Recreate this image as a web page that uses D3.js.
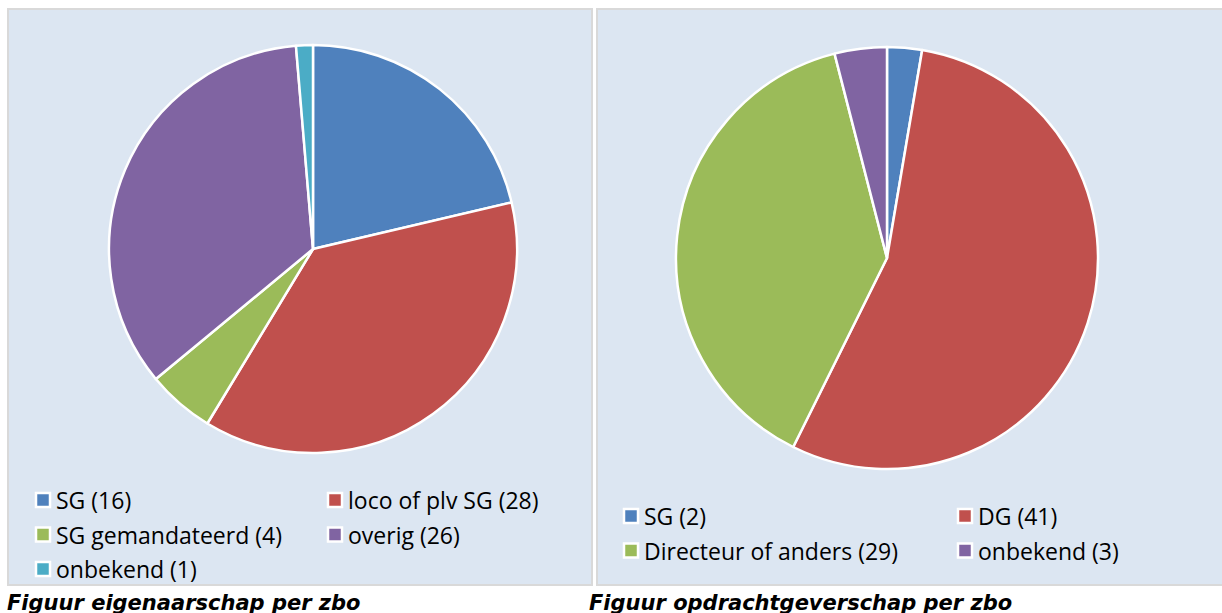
<!DOCTYPE html>
<html>
<head>
<meta charset="utf-8">
<script src="https://cdnjs.cloudflare.com/ajax/libs/d3/7.8.5/d3.min.js"></script>
<style>
  body { margin: 0; background: #fff; }
</style>
</head>
<body>
<div id="chart"></div>
<script>
// left chart data
const ownerLabels = ["SG (16)", "loco of plv SG (28)", "SG gemandateerd (4)", "overig (26)", "onbekend (1)"];
const ownerValues = [16, 28, 4, 26, 1];
// right chart data
const clientLabels = ["SG (2)", "DG (41)", "Directeur of anders (29)", "onbekend (3)"];
const clientValues = [2, 41, 29, 3];

const captions = ["Figuur eigenaarschap per zbo", "Figuur opdrachtgeverschap per zbo"];
const colors = ["#4F81BD", "#C0504D", "#9BBB59", "#8064A2", "#4BACC6"];

const svg = d3.select("#chart")
  .append("svg")
    .attr("width", 1222)
    .attr("height", 613);

function drawPanel(opts) {
  const g = svg.append("g");

  // panel background
  g.append("rect")
    .attr("x", opts.x)
    .attr("y", 9)
    .attr("width", opts.w)
    .attr("height", 576)
    .attr("fill", "#DCE6F2")
    .attr("stroke", "#D9D9D9")
    .attr("stroke-width", 2);

  const pie = d3.pie().sort(null).value(d => d);
  const arc = d3.arc().innerRadius(0).outerRadius(opts.r);

  g.append("g")
    .attr("transform", `translate(${opts.cx},${opts.cy})`)
    .selectAll("path")
    .data(pie(opts.values))
    .enter()
    .append("path")
      .attr("d", arc)
      .attr("fill", (d, i) => colors[i])
      .attr("stroke", "#fff")
      .attr("stroke-width", 2.5)
      .attr("stroke-linejoin", "round");

  // legend, two columns
  const items = g.selectAll(".leg")
    .data(opts.labels)
    .enter()
    .append("g")
      .attr("transform", (d, i) =>
        `translate(${opts.lx + (i % 2) * opts.colGap},${opts.ly + Math.floor(i / 2) * 34.5})`);

  items.append("rect")
    .attr("x", 0)
    .attr("y", -7)
    .attr("width", 14)
    .attr("height", 14)
    .attr("fill", (d, i) => colors[i])
    .attr("stroke", "#fff")
    .attr("stroke-width", 2.5);

  items.append("text")
    .attr("x", 20)
    .attr("y", 1)
    .attr("dy", "0.35em")
    .style("font-family", "'Open Sans', sans-serif")
    .style("font-size", "23px")
    .style("fill", "#000")
    .text(d => d);

  // caption under the panel
  svg.append("text")
    .attr("x", opts.capX)
    .attr("y", 610)
    .style("font-family", "'DejaVu Sans', Verdana, sans-serif")
    .style("font-weight", "bold")
    .style("font-style", "italic")
    .style("font-size", "21px")
    .style("fill", "#000")
    .text(opts.caption);
}

drawPanel({
  x: 8, w: 584, cx: 313, cy: 249, r: 204,
  values: ownerValues, labels: ownerLabels,
  lx: 36, ly: 500, colGap: 292,
  capX: 7, caption: captions[0]
});

drawPanel({
  x: 597, w: 630, cx: 887, cy: 258, r: 211,
  values: clientValues, labels: clientLabels,
  lx: 624, ly: 516, colGap: 334,
  capX: 589, caption: captions[1]
});
</script>
</body>
</html>
